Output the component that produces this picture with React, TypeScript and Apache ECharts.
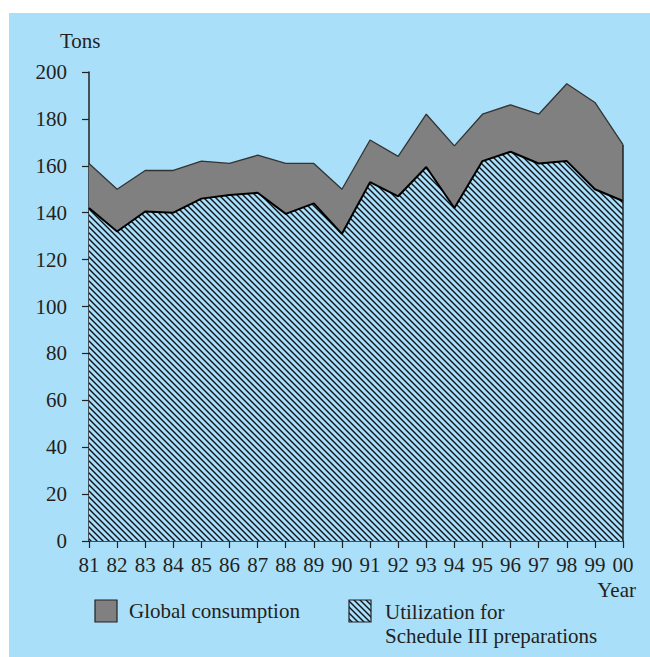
import React, { useEffect, useRef } from "react";
import * as echarts from "echarts";

const years = ["81","82","83","84","85","86","87","88","89","90","91","92","93","94","95","96","97","98","99","00"];
const globalConsumption = [161, 150, 158, 158, 162, 161, 164.5, 161, 161, 150, 171, 164, 182, 168.5, 182, 186, 182, 195, 187, 169];
const scheduleIII = [142, 132, 140.5, 140, 146, 147.5, 148.5, 139.5, 144, 131, 153, 147, 159.5, 142, 162, 166, 161, 162, 150, 145];
const yTicks = { min: 0, max: 200, interval: 20 };

const FONT = "'Liberation Serif', 'Times New Roman', serif";
const TEXT = "#231f20";
const BG = "#aadff9";

function makeHatch(): HTMLCanvasElement {
  const s = 12;
  const c = document.createElement("canvas");
  c.width = s;
  c.height = s;
  const ctx = c.getContext("2d")!;
  ctx.fillStyle = BG;
  ctx.fillRect(0, 0, s, s);
  ctx.strokeStyle = "#0f141c";
  ctx.lineWidth = 1.4;
  for (let k = -4; k <= 4; k++) {
    const off = k * 6;
    ctx.beginPath();
    ctx.moveTo(off - 2, -2);
    ctx.lineTo(off + s + 2, s + 2);
    ctx.stroke();
  }
  return c;
}

export default function App() {
  const ref = useRef<HTMLDivElement>(null);
  useEffect(() => {
    if (!ref.current) return;
    const chart = echarts.init(ref.current, null, { renderer: "svg" });
    const hatch = makeHatch();
    const pattern: any = { image: hatch, repeat: "repeat" };
    const last = years.length - 1;
    chart.setOption({
      animation: false,
      backgroundColor: "#ffffff",
      grid: { left: 89, right: 27, top: 72, bottom: 116, containLabel: false },
      xAxis: {
        type: "category",
        data: years,
        boundaryGap: false,
        axisLine: { show: true, lineStyle: { color: "#222", width: 1.5 } },
        axisTick: { show: true, length: 7, alignWithLabel: true, lineStyle: { color: "#222", width: 1.2 } },
        axisLabel: { interval: 0, margin: 14, fontFamily: FONT, fontSize: 21, color: TEXT, lineHeight: 20 },
        splitLine: { show: false },
      },
      yAxis: {
        type: "value",
        min: yTicks.min,
        max: yTicks.max,
        interval: yTicks.interval,
        axisLine: { show: true, lineStyle: { color: "#222", width: 1.5 } },
        axisTick: { show: true, length: 7, lineStyle: { color: "#222", width: 1.2 } },
        axisLabel: { margin: 22, fontFamily: FONT, fontSize: 21, color: TEXT },
        splitLine: { show: false },
      },
      series: [
        {
          name: "Global consumption",
          type: "line",
          data: globalConsumption,
          symbol: "none",
          z: 2,
          lineStyle: { color: "#333", width: 1.3 },
          areaStyle: { color: "#808080", opacity: 1, origin: "start" },
        },
        {
          name: "Utilization for Schedule III preparations",
          type: "line",
          data: scheduleIII,
          symbol: "none",
          z: 3,
          lineStyle: { color: "#000", width: 2 },
          areaStyle: { color: pattern, opacity: 1, origin: "start" },
          markLine: {
            silent: true,
            symbol: "none",
            label: { show: false },
            lineStyle: { color: "#222", width: 1.5, type: "solid" },
            data: [[{ coord: [years[last], 0] }, { coord: [years[last], globalConsumption[last]] }]],
          },
        },
      ],
      graphic: [
        { type: "rect", z: -100, silent: true, shape: { x: 9, y: 13, width: 641, height: 644 }, style: { fill: BG } },
        { type: "text", x: 60, y: 41, style: { text: "Tons", font: `21px ${FONT}`, fill: TEXT, verticalAlign: "middle" } },
        { type: "text", x: 636, y: 590, style: { text: "Year", font: `21px ${FONT}`, fill: TEXT, align: "right", verticalAlign: "middle", lineHeight: 20 } },
        { type: "rect", shape: { x: 95, y: 600, width: 22, height: 22 }, style: { fill: "#808080", stroke: "#222", lineWidth: 1.2 } },
        { type: "text", x: 129, y: 611, style: { text: "Global consumption", font: `21px ${FONT}`, fill: TEXT, verticalAlign: "middle" } },
        { type: "rect", shape: { x: 349, y: 600, width: 22, height: 22 }, style: { fill: pattern, stroke: "#222", lineWidth: 1.2 } },
        { type: "text", x: 385, y: 600, style: { text: "Utilization for\nSchedule III preparations", font: `21px ${FONT}`, fill: TEXT, verticalAlign: "top", lineHeight: 24 } },
      ],
    });
    return () => chart.dispose();
  }, []);
  return <div ref={ref} style={{ position: "fixed", left: 0, top: 0, width: 650, height: 657 }} />;
}
